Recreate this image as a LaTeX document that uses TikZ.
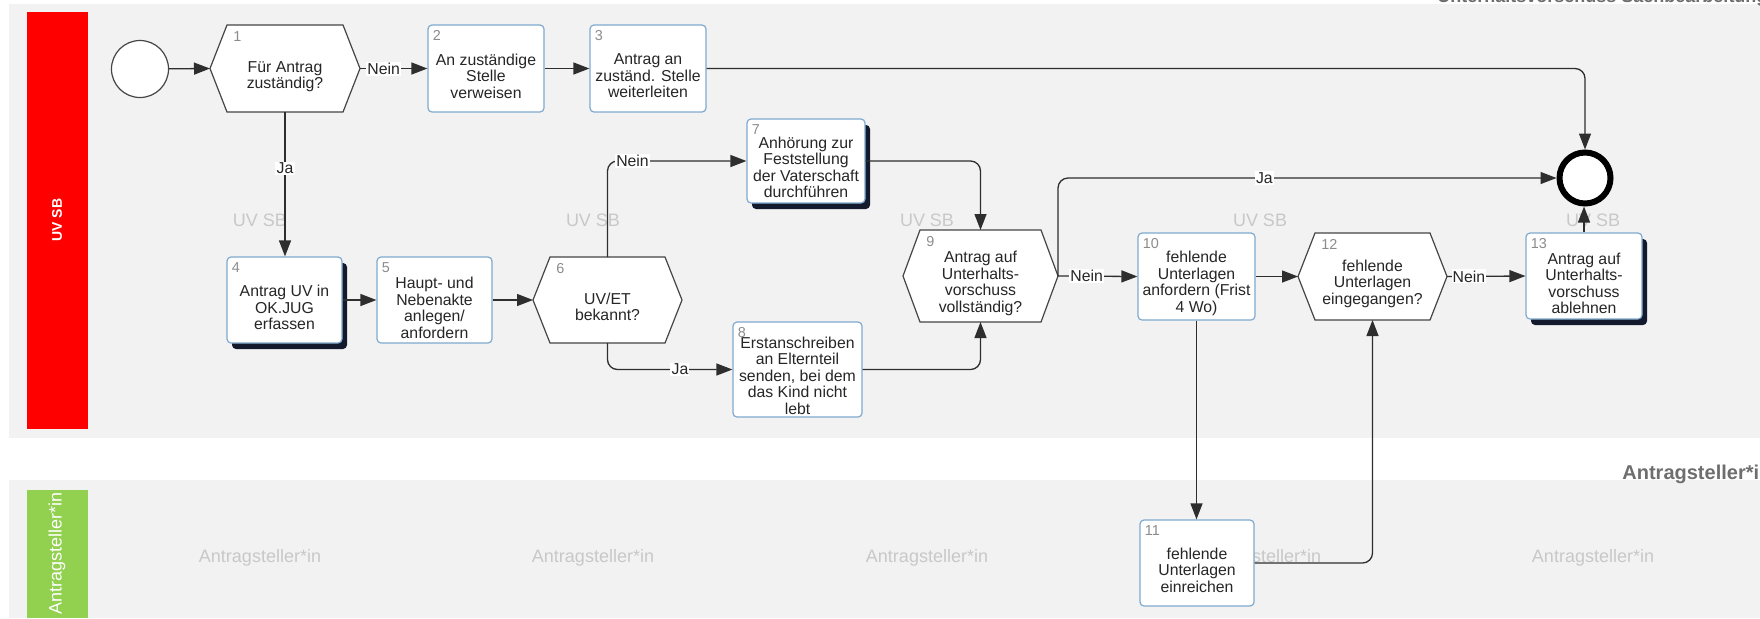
\documentclass[tikz,border=0pt]{standalone}
\usepackage{fontspec}
\setmainfont{Liberation Sans}
\usetikzlibrary{arrows.meta,shadows,calc}
\pgfdeclarelayer{lanes}
\pgfdeclarelayer{shapes}
\pgfsetlayers{lanes,shapes,main}
\definecolor{lanegrey}{HTML}{F2F2F2}
\definecolor{barred}{HTML}{FF0000}
\definecolor{bargreen}{HTML}{92D050}
\definecolor{wm}{HTML}{C8C8C8}
\definecolor{numgrey}{HTML}{8C8C8C}
\definecolor{taskblue}{HTML}{7FA9CF}
\definecolor{hexgrey}{HTML}{454545}
\definecolor{linegrey}{HTML}{2E2E2E}
\definecolor{shadowcol}{HTML}{141A2E}
\definecolor{txtcol}{HTML}{262626}
\definecolor{headgrey}{HTML}{6E6E6E}
\tikzset{
  sz/.style 2 args={minimum width=#1*0.5pt, minimum height=#2*0.5pt},
  task/.style={draw=taskblue, line width=0.6pt, fill=white, rounded corners=2pt, inner sep=0pt},
  subtask/.style={task, drop shadow={shadow xshift=2.5pt, shadow yshift=-3pt, fill=shadowcol, opacity=1}},
  hexbox/.style={inner sep=0pt, outer sep=0pt},
  hexline/.style={draw=hexgrey, line width=0.6pt, fill=white, line join=miter},
  txt/.style={font=\fontsize{7.9}{8.25}\selectfont, align=center, text=txtcol, inner sep=0pt},
  num/.style={font=\fontsize{7.2}{8}\selectfont, text=numgrey, inner sep=0pt, anchor=north west},
  flow/.style={draw=linegrey, line width=0.65pt, rounded corners=5pt, -{Triangle[length=8pt,width=6pt]}},
  elabel/.style={font=\fontsize{7.9}{8}\selectfont, text=txtcol, fill=white, inner sep=0.6pt, rounded corners=0pt},
  wmark/.style={font=\fontsize{9}{9}\selectfont, text=wm, inner sep=0pt},
  startev/.style={circle, draw=hexgrey, line width=0.6pt, fill=white, minimum size=28.5pt, inner sep=0pt},
  endev/.style={circle, draw=black, line width=3pt, fill=white, minimum size=25.5pt, inner sep=0pt},
  head/.style={font=\bfseries\fontsize{9}{9}\selectfont, text=headgrey, inner sep=0pt},
}
\begin{document}
\begin{tikzpicture}[x=0.5pt,y=-0.5pt]
\useasboundingbox (0,0) rectangle (1760,618);

% lanes
\begin{pgfonlayer}{lanes}
\fill[white] (0,0) rectangle (1760,618);
\fill[lanegrey] (9,4) rectangle (1760,438);
\fill[lanegrey] (9,480) rectangle (1760,618);
\fill[barred] (27,12) rectangle (88,429);
\fill[bargreen] (27,490) rectangle (88,618);
\foreach \x [count=\i] in {260,593,927,1260,1593}{
  \node[wmark] (wa\i) at (\x,220) {UV SB};
  \node[wmark] (wb\i) at (\x,558) {Antragsteller*in};
}
\end{pgfonlayer}

\node[rotate=90, text=white, font=\bfseries\fontsize{7}{7}\selectfont, inner sep=0pt] (lane1) at (57,220) {UV SB};
\node[rotate=90, text=white, font=\fontsize{9}{9}\selectfont, inner sep=0pt] (lane2) at (57,553) {Antragsteller*in};
\node[head, anchor=base west] (head1) at (1437,2) {Unterhaltsvorschuss Sachbearbeitung};
\node[head, font=\bfseries\fontsize{10}{10}\selectfont, anchor=base west] (head2) at (1622,479) {Antragsteller*in};

% events
\node[startev] (start) at (140,69) {};
\node[endev] (end) at (1585,178) {};

% hexagon (decision) boxes
\node[hexbox, sz={150}{87}] (n1) at (285,68.5) {};
\node[hexbox, sz={149}{86}] (n6) at (607.5,300) {};
\node[hexbox, sz={155}{92}] (n9) at (980.5,276) {};
\node[hexbox, sz={149}{87}] (n12) at (1372.5,276.5) {};

% task boxes
\node[task, sz={116}{87}] (n2) at (486,68.5) {};
\node[task, sz={116}{87}] (n3) at (648,68.5) {};
\node[subtask, sz={115}{86}] (n4) at (284.5,300) {};
\node[task, sz={115}{86}] (n5) at (434.5,300) {};
\node[subtask, sz={118}{84}] (n7) at (806,161) {};
\node[task, sz={129}{95}] (n8) at (797.5,369.5) {};
\node[task, sz={117}{87}] (n10) at (1196.5,276.5) {};
\node[task, sz={114}{86}] (n11) at (1197,563) {};
\node[subtask, sz={116}{86}] (n13) at (1584,276) {};

\begin{pgfonlayer}{shapes}
\foreach \h in {n1,n6,n9,n12}{
  \draw[hexline] ([xshift=8.5pt]\h.north west) -- ([xshift=-8.5pt]\h.north east) -- (\h.east)
    -- ([xshift=-8.5pt]\h.south east) -- ([xshift=8.5pt]\h.south west) -- (\h.west) -- cycle;
}
\end{pgfonlayer}

% numbers
\foreach \h/\t in {n1/1,n6/6,n9/9,n12/12}{
  \node[num] (\h num) at ([xshift=11.5pt,yshift=-3pt]\h.north west) {\t};
}
\foreach \h/\t in {n2/2,n3/3,n4/4,n5/5,n7/7,n8/8,n10/10,n11/11,n13/13}{
  \node[num] (\h num) at ([xshift=2.5pt,yshift=-3pt]\h.north west) {\t};
}

% texts
\node[txt] (n1t) at ([yshift=-4pt]n1.center) {Für Antrag\\zuständig?};
\node[txt] (n2t) at ([yshift=-3.8pt]n2.center) {An zuständige\\Stelle\\verweisen};
\node[txt] (n3t) at ([yshift=-3.8pt]n3.center) {Antrag an\\zuständ. Stelle\\weiterleiten};
\node[txt] (n4t) at ([yshift=-3.8pt]n4.center) {Antrag UV in\\OK.JUG\\erfassen};
\node[txt] (n5t) at ([yshift=-3.8pt]n5.center) {Haupt- und\\Nebenakte\\anlegen/\\anfordern};
\node[txt] (n6t) at ([yshift=-3.3pt]n6.center) {UV/ET\\bekannt?};
\node[txt] (n7t) at ([yshift=-3.2pt]n7.center) {Anhörung zur\\Feststellung\\der Vaterschaft\\durchführen};
\node[txt] (n8t) at ([yshift=-3pt]n8.center) {Erstanschreiben\\an Elternteil\\senden, bei dem\\das Kind nicht\\lebt};
\node[txt] (n9t) at ([yshift=-3.7pt]n9.center) {Antrag auf\\Unterhalts-\\vorschuss\\vollständig?};
\node[txt] (n10t) at ([yshift=-3.5pt]n10.center) {fehlende\\Unterlagen\\anfordern (Frist\\4 Wo)};
\node[txt] (n11t) at ([yshift=-3.5pt]n11.center) {fehlende\\Unterlagen\\einreichen};
\node[txt] (n12t) at ([yshift=-3.7pt]n12.center) {fehlende\\Unterlagen\\eingegangen?};
\node[txt] (n13t) at ([yshift=-3.7pt]n13.center) {Antrag auf\\Unterhalts-\\vorschuss\\ablehnen};

% connectors
\draw[flow] (start) -- (n1.west);
\draw[flow] (n1.east) -- node[elabel,pos=0.35] (l1) {Nein} (n2.west);
\draw[flow] (n2.east) -- (n3.west);
\draw[flow] (n3.east) -| (end.north);
\draw[flow] (n1.south) -- node[elabel,pos=0.39] (l2) {Ja} (n1.south |- n4.north);
\draw[flow] (n4.east) -- (n5.west);
\draw[flow] (n5.east) -- (n6.west);
\draw[flow] (n6.north) |- node[elabel,pos=0.59] (l3) {Nein} (n7.west);
\draw[flow] (n6.south) |- node[elabel,pos=0.79] (l4) {Ja} (n8.west);
\draw[flow] (n7.east) -| (n9.north);
\draw[flow] (n8.east) -| (n9.south);
\draw[flow] (n9.east) -- node[elabel,pos=0.36] (l5) {Nein} (n10.west);
\draw[flow] (n9.east) |- node[elabel,pos=0.707] (l6) {Ja} (end.west);
\draw[flow] (n10.east) -- (n12.west);
\draw[flow] (n12.east) -- node[elabel,pos=0.28] (l7) {Nein} (n13.west);
\draw[flow] (n13.north) -- (n13.north |- end.south);
\draw[flow] (n10.south) -- (n10.south |- n11.north);
\draw[flow] (n11.east) -| (n12.south);
\end{tikzpicture}
\end{document}
